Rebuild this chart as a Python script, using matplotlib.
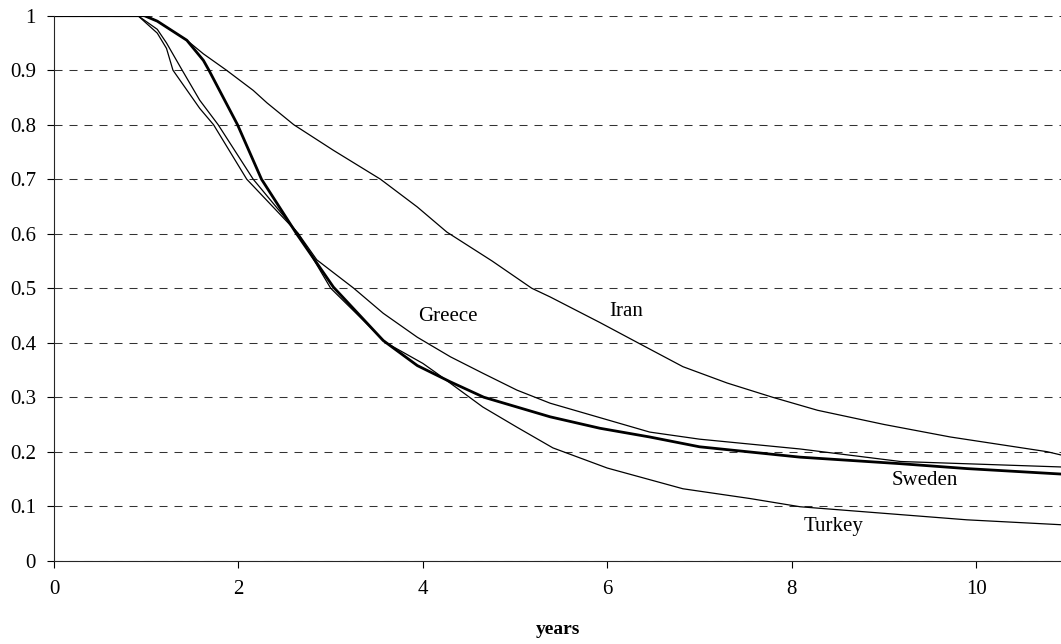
import numpy as np
import matplotlib
matplotlib.use('Agg')
import matplotlib.pyplot as plt

plt.rcParams['font.family'] = ['Liberation Serif', 'DejaVu Serif']

# survival curves (years, proportion)
sweden_t = [0, 0.98, 1.12, 1.44, 1.62, 1.68, 1.99, 2.25, 2.63, 3.03, 3.57, 3.94,
            4.3, 4.66, 5.02, 5.38, 5.92, 6.46, 7.0, 8.09, 9.18, 9.9, 10.92]
sweden_s = [1, 1, 0.99, 0.955, 0.918, 0.9, 0.8, 0.7, 0.6, 0.502, 0.404, 0.358,
            0.328, 0.3, 0.282, 0.264, 0.243, 0.227, 0.209, 0.19, 0.178, 0.169, 0.159]

greece_t = [0, 0.91, 1.12, 1.22, 1.39, 1.58, 1.78, 2.16, 2.65, 2.85, 3.25,
            3.57, 3.94, 4.3, 4.65, 5.02, 5.38, 5.93, 6.46, 7.0, 8.09, 9.18, 10.92]
greece_s = [1, 1, 0.975, 0.95, 0.9, 0.845, 0.8, 0.7, 0.6, 0.552, 0.5,
            0.454, 0.41, 0.374, 0.344, 0.313, 0.289, 0.262, 0.236, 0.223, 0.205,
            0.182, 0.172]

turkey_t = [0, 0.91, 1.12, 1.22, 1.29, 1.58, 1.73, 2.09, 2.65, 3.0, 3.6, 4.0,
            4.15, 4.65, 5.02, 5.41, 6.0, 6.82, 7.55, 8.09, 9.9, 10.92]
turkey_s = [1, 1, 0.968, 0.94, 0.9, 0.83, 0.8, 0.7, 0.6, 0.5, 0.4, 0.362,
            0.344, 0.282, 0.245, 0.207, 0.17, 0.132, 0.114, 0.099, 0.075, 0.066]

iran_t = [0, 1.0, 1.12, 1.44, 1.62, 1.87, 2.16, 2.31, 2.6, 3.03, 3.54, 3.94,
          4.26, 4.75, 5.18, 5.38, 5.92, 6.33, 6.82, 7.3, 7.79, 8.28, 9.0, 9.72,
          10.77, 10.92]
iran_s = [1, 1, 0.99, 0.955, 0.93, 0.9, 0.863, 0.84, 0.8, 0.753, 0.7, 0.649,
          0.603, 0.55, 0.5, 0.484, 0.437, 0.4, 0.356, 0.326, 0.3, 0.276, 0.25,
          0.227, 0.2, 0.194]

labels = ['Greece', 'Iran', 'Sweden', 'Turkey']
label_x = [4.27, 6.21, 9.44, 8.45]
label_y = [0.439, 0.449, 0.139, 0.055]

fig = plt.figure(figsize=(10.61, 6.44), dpi=100)
ax = fig.add_axes([54 / 1061, 83.3 / 644, 1 - 54 / 1061, 545 / 644])

ax.plot(iran_t, iran_s, color='black', lw=0.9)
ax.plot(greece_t, greece_s, color='black', lw=0.9)
ax.plot(turkey_t, turkey_s, color='black', lw=0.9)
ax.plot(sweden_t, sweden_s, color='black', lw=2.0)

for name, lx, ly in zip(labels, label_x, label_y):
    ax.text(lx, ly, name, ha='center', va='baseline', fontsize=15)

ax.set_xlim(0, 10.92)
ax.set_ylim(0, 1)
ax.set_xticks(np.arange(0, 11, 2))
yt = np.round(np.arange(0, 1.01, 0.1), 1)
ax.set_yticks(yt)
ax.set_yticklabels(['0' if v == 0 else ('1' if v == 1 else f'{v:g}') for v in yt])
ax.yaxis.grid(True, color='0.2', lw=0.75, linestyle=(0, (7.7, 6.7)))
ax.set_axisbelow(True)

for s in ['top', 'right']:
    ax.spines[s].set_visible(False)
for s in ['left', 'bottom']:
    ax.spines[s].set_linewidth(0.8)
    ax.spines[s].set_color('0.15')

ax.tick_params(axis='y', direction='out', length=5, width=0.8, pad=8, labelsize=15)
ax.tick_params(axis='x', direction='out', length=5, width=0.8, pad=9, labelsize=15)
ax.set_xlabel('years', fontsize=14, fontweight='bold', labelpad=16)

fig.savefig('out.png', dpi=100)
